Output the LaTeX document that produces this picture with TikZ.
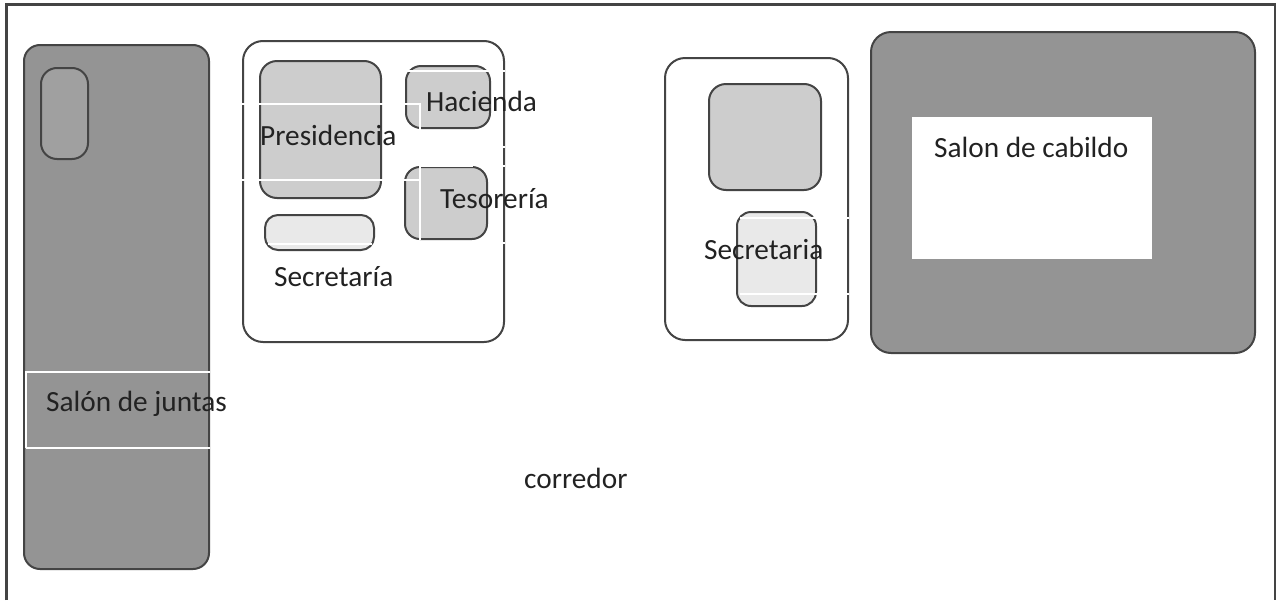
\documentclass[tikz,border=0pt]{standalone}
\usepackage{fontspec}
\setmainfont{Carlito}
\definecolor{dk}{HTML}{444444}
\definecolor{mid}{HTML}{949494}
\definecolor{lt}{HTML}{CDCDCD}
\definecolor{pale}{HTML}{E9E9E9}
\definecolor{ovalc}{HTML}{A0A0A0}
\definecolor{txt}{HTML}{222222}
\tikzset{
  room/.style={draw=dk,line width=2pt,rounded corners=#1},
  room/.default=18pt,
  wl/.style={draw=white,line width=1.6pt},
  lab/.style={font=\fontsize{29.3}{33}\selectfont,text=txt,inner sep=0pt,anchor=base west}
}
\begin{document}
\begin{tikzpicture}[x=1pt,y=-1pt]
\useasboundingbox (0,0) rectangle (1282,600);
\draw[draw=dk,line width=2.4pt] (6.5,600) -- (6.5,4.5) -- (1275,4.5) -- (1275,600);
% left hall
\draw[room=16pt,fill=mid] (24,45) rectangle (209,569);
\draw[room=16pt,fill=ovalc] (41,68) rectangle (88,159);
% left office group
\draw[room=20pt,fill=white] (243,41) rectangle (504,342);
\draw[room=17pt,fill=lt] (260,61) rectangle (381,198);
\draw[room=15pt,fill=lt] (406,66) rectangle (490,128);
\draw[room=15pt,fill=lt] (405,167) rectangle (487,239);
\draw[room=13pt,fill=pale] (265,215) rectangle (374,250);
% middle group
\draw[room=20pt,fill=white] (665,58) rectangle (848,340);
\draw[room=17pt,fill=lt] (709,84) rectangle (821,190);
\draw[room=14pt,fill=pale] (737,212) rectangle (816,306);
% big hall
\draw[room=20pt,fill=mid] (871,32) rectangle (1255,353);
\fill[white] (912,117) rectangle (1152,259);
% white text-box edges
\draw[wl] (240,104) -- (420,104) -- (420,130);
\draw[wl] (240,180) -- (420,180);
\draw[wl] (404,71) -- (505,71);
\draw[wl] (404,71) -- (404,113);
\draw[wl] (420,166) -- (420,240);
\draw[wl] (420,166) -- (473,166);
\draw[wl] (503,147) -- (505,147);
\draw[wl] (503,166) -- (505,166);
\draw[wl] (503,243) -- (505,243);
\draw[wl] (268,244) -- (372,244);
\draw[wl] (740,218) -- (849,218);
\draw[wl] (740,294) -- (849,294);
\draw[wl] (26,448) -- (26,372) -- (210,372);
\draw[wl] (26,448) -- (210,448);
% labels
\node[lab] (presidencia) at (260,145) {Presidencia};
\node[lab] (hacienda) at (426,111) {Hacienda};
\node[lab] (tesoreria) at (440,208) {Tesorería};
\node[lab] (secretaria1) at (274,286) {Secretaría};
\node[lab] (secretaria2) at (704,259) {Secretaria};
\node[lab] (cabildo) at (934,157) {Salon de cabildo};
\node[lab] (juntas) at (46,411) {Salón de juntas};
\node[lab] (corredor) at (524,488) {corredor};
\end{tikzpicture}
\end{document}
